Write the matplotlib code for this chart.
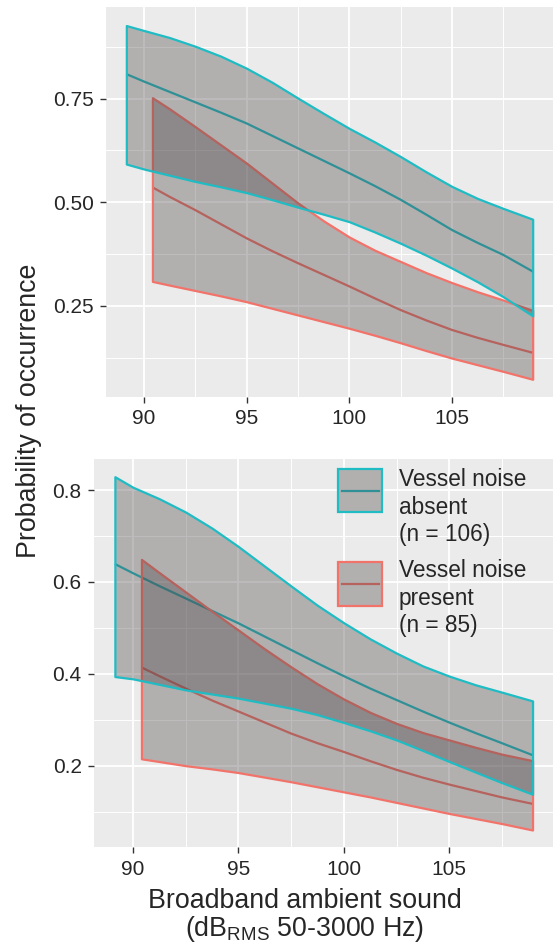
import matplotlib
matplotlib.use("Agg")
import matplotlib.pyplot as plt
from matplotlib.patches import Rectangle
from matplotlib.lines import Line2D
from matplotlib.ticker import FixedLocator

plt.rcParams['font.family'] = ['Liberation Sans', 'DejaVu Sans']
plt.rcParams['mathtext.fontset'] = 'custom'
plt.rcParams['mathtext.rm'] = 'Liberation Sans'
plt.rcParams['mathtext.default'] = 'regular'

# ---- model predictions (probability of occurrence vs broadband sound level) ----
# Upper panel
top_x_absent = [89.14, 90.0, 91.25, 92.5, 93.75, 95.0, 96.25, 97.5, 98.75, 100.0,
                101.25, 102.5, 103.75, 105.0, 106.25, 107.5, 108.93]
top_fit_absent = [0.809, 0.791, 0.766, 0.741, 0.716, 0.690, 0.660, 0.630, 0.600, 0.570,
                  0.539, 0.506, 0.470, 0.433, 0.402, 0.373, 0.333]
top_lo_absent = [0.592, 0.580, 0.565, 0.550, 0.537, 0.523, 0.506, 0.488, 0.471, 0.453,
                 0.428, 0.401, 0.372, 0.341, 0.308, 0.272, 0.226]
top_hi_absent = [0.926, 0.914, 0.897, 0.876, 0.852, 0.823, 0.789, 0.751, 0.714, 0.678,
                 0.645, 0.610, 0.573, 0.538, 0.509, 0.485, 0.459]

top_x_present = [90.41, 91.25, 92.5, 93.75, 95.0, 96.25, 97.5, 98.75, 100.0,
                 101.25, 102.5, 103.75, 105.0, 106.25, 107.5, 108.93]
top_fit_present = [0.536, 0.513, 0.481, 0.447, 0.413, 0.382, 0.353, 0.325, 0.297,
                   0.268, 0.240, 0.215, 0.192, 0.173, 0.156, 0.137]
top_lo_present = [0.309, 0.300, 0.287, 0.274, 0.260, 0.244, 0.228, 0.212, 0.196,
                  0.179, 0.161, 0.142, 0.124, 0.108, 0.092, 0.073]
top_hi_present = [0.752, 0.725, 0.682, 0.638, 0.594, 0.546, 0.498, 0.455, 0.416,
                  0.384, 0.357, 0.330, 0.306, 0.284, 0.264, 0.239]

# Lower panel
bot_x_absent = [89.14, 90.0, 91.25, 92.5, 93.75, 95.0, 96.25, 97.5, 98.75, 100.0,
                101.25, 102.5, 103.75, 105.0, 106.25, 107.5, 108.95]
bot_fit_absent = [0.639, 0.619, 0.591, 0.564, 0.537, 0.510, 0.481, 0.452, 0.423, 0.395,
                  0.368, 0.343, 0.318, 0.294, 0.271, 0.249, 0.223]
bot_lo_absent = [0.394, 0.389, 0.377, 0.365, 0.356, 0.347, 0.336, 0.325, 0.311, 0.294,
                 0.276, 0.256, 0.233, 0.209, 0.186, 0.163, 0.138]
bot_hi_absent = [0.829, 0.806, 0.781, 0.752, 0.717, 0.677, 0.634, 0.591, 0.549, 0.511,
                 0.476, 0.445, 0.417, 0.395, 0.376, 0.360, 0.341]

bot_x_present = [90.40, 91.25, 92.5, 93.75, 95.0, 96.25, 97.5, 98.75, 100.0,
                 101.25, 102.5, 103.75, 105.0, 106.25, 107.5, 108.95]
bot_fit_present = [0.414, 0.395, 0.368, 0.342, 0.318, 0.294, 0.270, 0.249, 0.230,
                   0.210, 0.191, 0.174, 0.159, 0.145, 0.131, 0.117]
bot_lo_present = [0.215, 0.209, 0.200, 0.193, 0.185, 0.175, 0.165, 0.154, 0.143,
                  0.132, 0.120, 0.108, 0.096, 0.085, 0.074, 0.060]
bot_hi_present = [0.649, 0.620, 0.578, 0.536, 0.495, 0.454, 0.415, 0.378, 0.345,
                  0.316, 0.292, 0.272, 0.256, 0.240, 0.225, 0.211]

x_ticks = [90, 95, 100, 105]
x_minor = [92.5, 97.5, 102.5, 107.5]
top_y_ticks = [0.25, 0.50, 0.75]
top_y_labels = ["0.25", "0.50", "0.75"]
top_y_minor = [0.125, 0.375, 0.625, 0.875]
bot_y_ticks = [0.2, 0.4, 0.6, 0.8]
bot_y_labels = ["0.2", "0.4", "0.6", "0.8"]
bot_y_minor = [0.1, 0.3, 0.5, 0.7]

legend_labels = ["Vessel noise\nabsent\n(n = 106)", "Vessel noise\npresent\n(n = 85)"]

COL_ABSENT = "#1fbcc4"
COL_PRESENT = "#f2736a"
RIBBON_FILL = (0.30, 0.27, 0.28, 0.36)
PANEL_BG = "#EBEBEB"
TEXT_COL = "#262626"

W, H = 553, 944
fig = plt.figure(figsize=(W / 100, H / 100), dpi=100)


def frac_box(left, top, right, bottom):
    return [left / W, 1 - bottom / H, (right - left) / W, (bottom - top) / H]


ax_top = fig.add_axes(frac_box(106, 7.3, 553, 396.7))
ax_bot = fig.add_axes(frac_box(94, 459, 553, 847.3))


def style_axes(ax, ylim, yticks, ylabels, yminor):
    ax.set_facecolor(PANEL_BG)
    for s in ax.spines.values():
        s.set_visible(False)
    ax.set_xlim(88.15, 109.92)
    ax.set_ylim(*ylim)
    ax.set_xticks(x_ticks)
    ax.set_xticklabels([str(t) for t in x_ticks])
    ax.xaxis.set_minor_locator(FixedLocator(x_minor))
    ax.set_yticks(yticks)
    ax.set_yticklabels(ylabels)
    ax.yaxis.set_minor_locator(FixedLocator(yminor))
    ax.grid(which='major', color='white', linewidth=1.3)
    ax.grid(which='minor', color='white', linewidth=0.7)
    ax.set_axisbelow(True)
    ax.tick_params(which='major', direction='out', length=4.4, width=1.0,
                   color='#333333', labelsize=15, labelcolor=TEXT_COL, pad=4.5)
    ax.tick_params(which='minor', length=0)


def draw_group(ax, x, fit, lo, hi, color, z):
    ax.plot(x, fit, color=color, lw=1.6, zorder=2, solid_capstyle='butt')
    ax.fill_between(x, lo, hi, facecolor=RIBBON_FILL, edgecolor=color,
                    linewidth=1.6, zorder=z, joinstyle='round')


style_axes(ax_top, (0.031, 0.970), top_y_ticks, top_y_labels, top_y_minor)
style_axes(ax_bot, (0.0224, 0.8675), bot_y_ticks, bot_y_labels, bot_y_minor)

draw_group(ax_top, top_x_present, top_fit_present, top_lo_present, top_hi_present, COL_PRESENT, 3)
draw_group(ax_top, top_x_absent, top_fit_absent, top_lo_absent, top_hi_absent, COL_ABSENT, 4)
draw_group(ax_bot, bot_x_present, bot_fit_present, bot_lo_present, bot_hi_present, COL_PRESENT, 3)
draw_group(ax_bot, bot_x_absent, bot_fit_absent, bot_lo_absent, bot_hi_absent, COL_ABSENT, 4)


# legend drawn in axes-fraction units of the lower panel
def ax_frac(px, py):
    return (px - 94) / (553 - 94), (847.3 - py) / (847.3 - 459)


for (ktop, kbot, mid_text), col, lab in zip(
        [(469, 512, 507), (562, 606, 598)], [COL_ABSENT, COL_PRESENT], legend_labels):
    x0, y0 = ax_frac(338, kbot)
    x1, y1 = ax_frac(382, ktop)
    bg = Rectangle((x0, y0), x1 - x0, y1 - y0, transform=ax_bot.transAxes,
                   facecolor=PANEL_BG, edgecolor='none', zorder=6)
    ax_bot.add_patch(bg)
    lx0, ly = ax_frac(341.5, (ktop + kbot) / 2)
    lx1, _ = ax_frac(378.5, 0)
    ax_bot.add_line(Line2D([lx0, lx1], [ly, ly], transform=ax_bot.transAxes,
                           color=col, lw=1.6, zorder=7))
    fg = Rectangle((x0, y0), x1 - x0, y1 - y0, transform=ax_bot.transAxes,
                   facecolor=RIBBON_FILL, edgecolor=col, linewidth=1.6, zorder=8)
    ax_bot.add_patch(fg)
    tx, ty = ax_frac(399, mid_text)
    ax_bot.text(tx, ty, lab, transform=ax_bot.transAxes, ha='left', va='center',
                fontsize=16.3, color=TEXT_COL, linespacing=1.27, zorder=9)

# axis titles
fig.text(29 / W, 1 - 411 / H, "Probability of occurrence", rotation=90,
         ha='center', va='center', fontsize=19.3, color=TEXT_COL)
fig.text(305 / W, 1 - 916 / H,
         "Broadband ambient sound\n" + r"(dB$_{\mathrm{RMS}}$ 50-3000 Hz)",
         ha='center', va='center', multialignment='center', linespacing=1.02,
         fontsize=19.3, color=TEXT_COL)

fig.savefig("out.png", dpi=100)
